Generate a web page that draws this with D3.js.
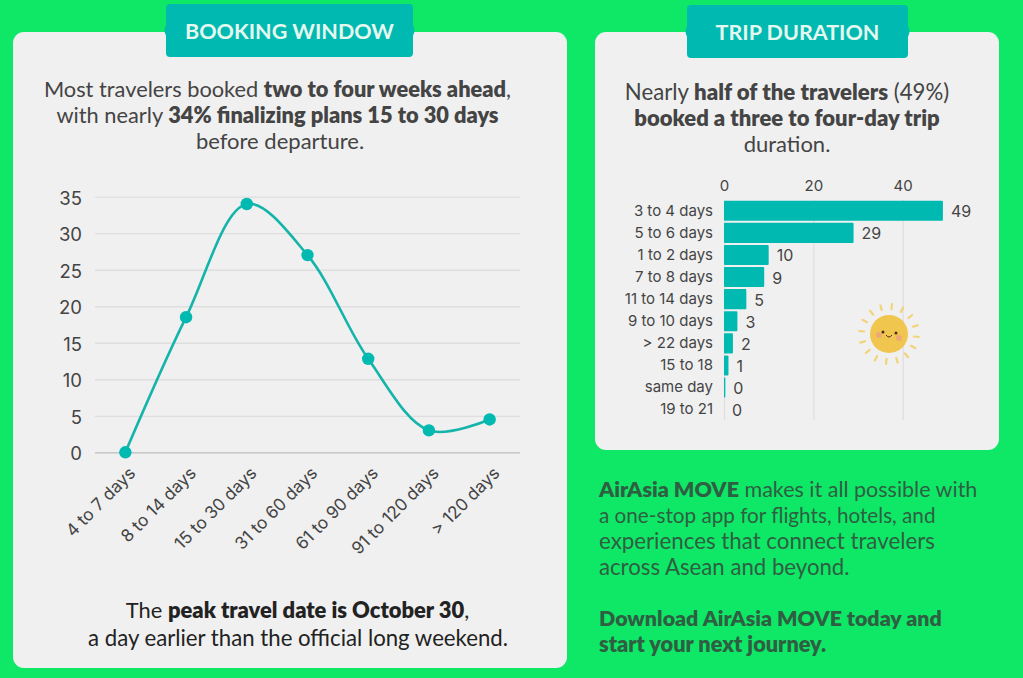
<!DOCTYPE html>
<html><head><meta charset="utf-8">
<script src="https://cdn.jsdelivr.net/npm/d3@7"></script>
<style>
html,body{margin:0;padding:0;background:#0ee866;}
svg{display:block}
text{font-family:"Lato","Noto Sans",sans-serif;}
.ax text,.ax{font-family:"Inter","Noto Sans",sans-serif;}
</style></head><body>
<svg id="c" width="1023" height="678"></svg>
<script>
const bookingCats=["4 to 7 days","8 to 14 days","15 to 30 days","31 to 60 days","61 to 90 days","91 to 120 days","> 120 days"];
const bookingVals=[0,18.5,34,27,12.8,3,4.5];
const bookingTicks=[0,5,10,15,20,25,30,35];
const tripCats=["3 to 4 days","5 to 6 days","1 to 2 days","7 to 8 days","11 to 14 days","9 to 10 days","> 22 days","15 to 18","same day","19 to 21"];
const tripVals=[49,29,10,9,5,3,2,1,0.3,0];
const tripLabels=[49,29,10,9,5,3,2,1,0,0];
const tripTicks=[0,20,40];

const TEAL="#00b9b1",LINE="#14b4aa",INK="#444444",PANEL="#f0f0f0";
const svg=d3.select("#c");
svg.append("rect").attr("width",1023).attr("height",678).attr("fill","#0ee866");
svg.append("rect").attr("x",13).attr("y",32).attr("width",554).attr("height",636).attr("rx",11).attr("fill",PANEL);
svg.append("rect").attr("x",595).attr("y",32).attr("width",404).attr("height",418).attr("rx",11).attr("fill",PANEL);

function tab(x0,x1,y0,y1,label){
  const ym=(y0+y1)/2,r=4;
  const p=d3.path();
  p.moveTo(x0+r,y0);p.lineTo(x1-r,y0);p.quadraticCurveTo(x1,y0,x1,y0+r);
  p.lineTo(x1,ym-5);p.quadraticCurveTo(x1+3,ym,x1,ym+5);
  p.lineTo(x1,y1-r);p.quadraticCurveTo(x1,y1,x1-r,y1);
  p.lineTo(x0+r,y1);p.quadraticCurveTo(x0,y1,x0,y1-r);
  p.lineTo(x0,ym+5);p.quadraticCurveTo(x0-3,ym,x0,ym-5);
  p.lineTo(x0,y0+r);p.quadraticCurveTo(x0,y0,x0+r,y0);p.closePath();
  svg.append("path").attr("d",p.toString()).attr("fill",TEAL);
  svg.append("text").attr("x",(x0+x1)/2).attr("y",ym+8).attr("text-anchor","middle")
    .attr("fill","#e4f8f0").attr("font-size",21.5).attr("font-weight",700).text(label);
}
tab(166,413,4,57,"BOOKING WINDOW");
tab(687,908,5,58,"TRIP DURATION");

function rich(x,y,parts,size,fill,anchor="middle"){
  const t=svg.append("text").attr("x",x).attr("y",y).attr("text-anchor",anchor)
    .attr("font-size",size).attr("fill",fill||INK);
  parts.forEach(p=>t.append("tspan").attr("font-weight",p[1]?800:400).text(p[0]));
}
rich(277.5,97,[["Most travelers booked ",0],["two to four weeks ahead",1],[",",0]],21.8);
rich(277.5,123,[["with nearly ",0],["34% finalizing plans 15 to 30 days",1]],21.8);
rich(280,149,[["before departure.",0]],22);
rich(297.5,618,[["The ",0],["peak travel date is October 30",1],[",",0]],21.9,"#222");
rich(298,646,[["a day earlier than the official long weekend.",0]],22.2,"#222");
rich(787,100,[["Nearly ",0],["half of the travelers",1],[" (49%)",0]],22.2);
rich(787,126,[["booked a three to four-day trip",1]],22);
rich(787,152,[["duration.",0]],22);
const G="#2f5f42";
rich(599,497,[["AirAsia MOVE",1],[" makes it all possible with",0]],21.5,G,"start");
rich(599,523,[["a one-stop app for flights, hotels, and",0]],20.7,G,"start");
rich(599,548.5,[["experiences that connect travelers",0]],22.3,G,"start");
rich(599,574.5,[["across Asean and beyond.",0]],22.2,G,"start");
rich(599,625.5,[["Download AirAsia MOVE today and",1]],21.4,G,"start");
rich(599,651.5,[["start your next journey.",1]],21.7,G,"start");

// Line chart
const x=d3.scaleBand().domain(bookingCats).range([95,520]);
const y=d3.scaleLinear().domain([0,35]).range([452.3,196.7]);
const cx=c=>x(c)+x.bandwidth()/2;
const gy=svg.append("g").attr("class","ax").attr("transform","translate(95,0)")
  .call(d3.axisLeft(y).tickValues(bookingTicks).tickSize(-425).tickPadding(13));
gy.select(".domain").remove();
gy.selectAll(".tick line").attr("stroke",d=>d===0?"#bdbdbd":"#dedede").attr("stroke-width",1.3);
gy.selectAll(".tick text").attr("font-size",18.5).attr("fill",INK).attr("y",1.5);
const gx=svg.append("g").attr("class","ax").attr("transform","translate(0,452.3)")
  .call(d3.axisBottom(x).tickSize(0).tickPadding(0));
gx.select(".domain").remove();
gx.selectAll(".tick text").attr("font-size",17.2).attr("fill",INK)
  .attr("text-anchor","end").attr("dy",0).attr("y",0)
  .attr("transform","translate(11,22) rotate(-45)");
svg.append("path").attr("fill","none").attr("stroke",LINE).attr("stroke-width",2.6)
  .attr("d",d3.line().x((d,i)=>cx(bookingCats[i])).y(d=>y(d)).curve(d3.curveCatmullRom.alpha(0.5))(bookingVals));
svg.selectAll(".pt").data(bookingVals).join("circle").attr("cx",(d,i)=>cx(bookingCats[i])).attr("cy",d=>y(d)).attr("r",6.2).attr("fill",TEAL);

// Bar chart
const bx=d3.scaleLinear().domain([0,40]).range([724,902.7]);
const by=d3.scaleBand().domain(tripCats).range([199.7,420.7]).paddingInner(0.09).paddingOuter(0.045);
const gt=svg.append("g").attr("class","ax").attr("transform","translate(0,420)")
  .call(d3.axisTop(bx).tickValues(tripTicks).tickSize(220).tickPadding(8));
gt.select(".domain").remove();
gt.selectAll(".tick line").attr("stroke","#dedede").attr("stroke-width",1.2);
gt.selectAll(".tick text").attr("font-size",15).attr("fill",INK).attr("dy",-1);
const gl=svg.append("g").attr("class","ax").attr("transform","translate(724,0)")
  .call(d3.axisLeft(by).tickSize(0).tickPadding(11));
gl.select(".domain").remove();
gl.selectAll(".tick text").attr("font-size",15).attr("fill",INK);
svg.selectAll(".bar").data(tripVals).join("rect").attr("x",bx(0)).attr("y",(d,i)=>by(tripCats[i]))
  .attr("width",d=>bx(d)-bx(0)).attr("height",by.bandwidth()).attr("rx",1).attr("fill",TEAL);
svg.selectAll(".lab").data(tripLabels).join("text").attr("class","ax").attr("x",(d,i)=>bx(tripVals[i])+8)
  .attr("y",(d,i)=>by(tripCats[i])+by.bandwidth()/2+6.5).attr("font-size",16).attr("fill",INK).style("font-family","Inter").text(d=>d);

// Sun decoration
const sun=svg.append("g").attr("transform","translate(889,334)");
d3.range(16).forEach(i=>{const a=i/16*2*Math.PI+0.1;
  sun.append("line").attr("x1",25*Math.cos(a)).attr("y1",25*Math.sin(a)).attr("x2",30*Math.cos(a)).attr("y2",30*Math.sin(a))
    .attr("stroke","#f3d37a").attr("stroke-width",2.2).attr("stroke-linecap","round");});
sun.append("circle").attr("r",19).attr("fill","#f0c64e");
sun.append("circle").attr("cx",-10).attr("cy",1).attr("r",3).attr("fill","#eda878");
sun.append("circle").attr("cx",10).attr("cy",4).attr("r",3).attr("fill","#eda878");
sun.append("circle").attr("cx",-6).attr("cy",-2).attr("r",1.5).attr("fill","#4a2d14");
sun.append("circle").attr("cx",7).attr("cy",-1).attr("r",1.5).attr("fill","#4a2d14");
sun.append("path").attr("d","M-3 1Q0 5 3 1").attr("fill","none").attr("stroke","#4a2d14").attr("stroke-width",1);
</script></body></html>
